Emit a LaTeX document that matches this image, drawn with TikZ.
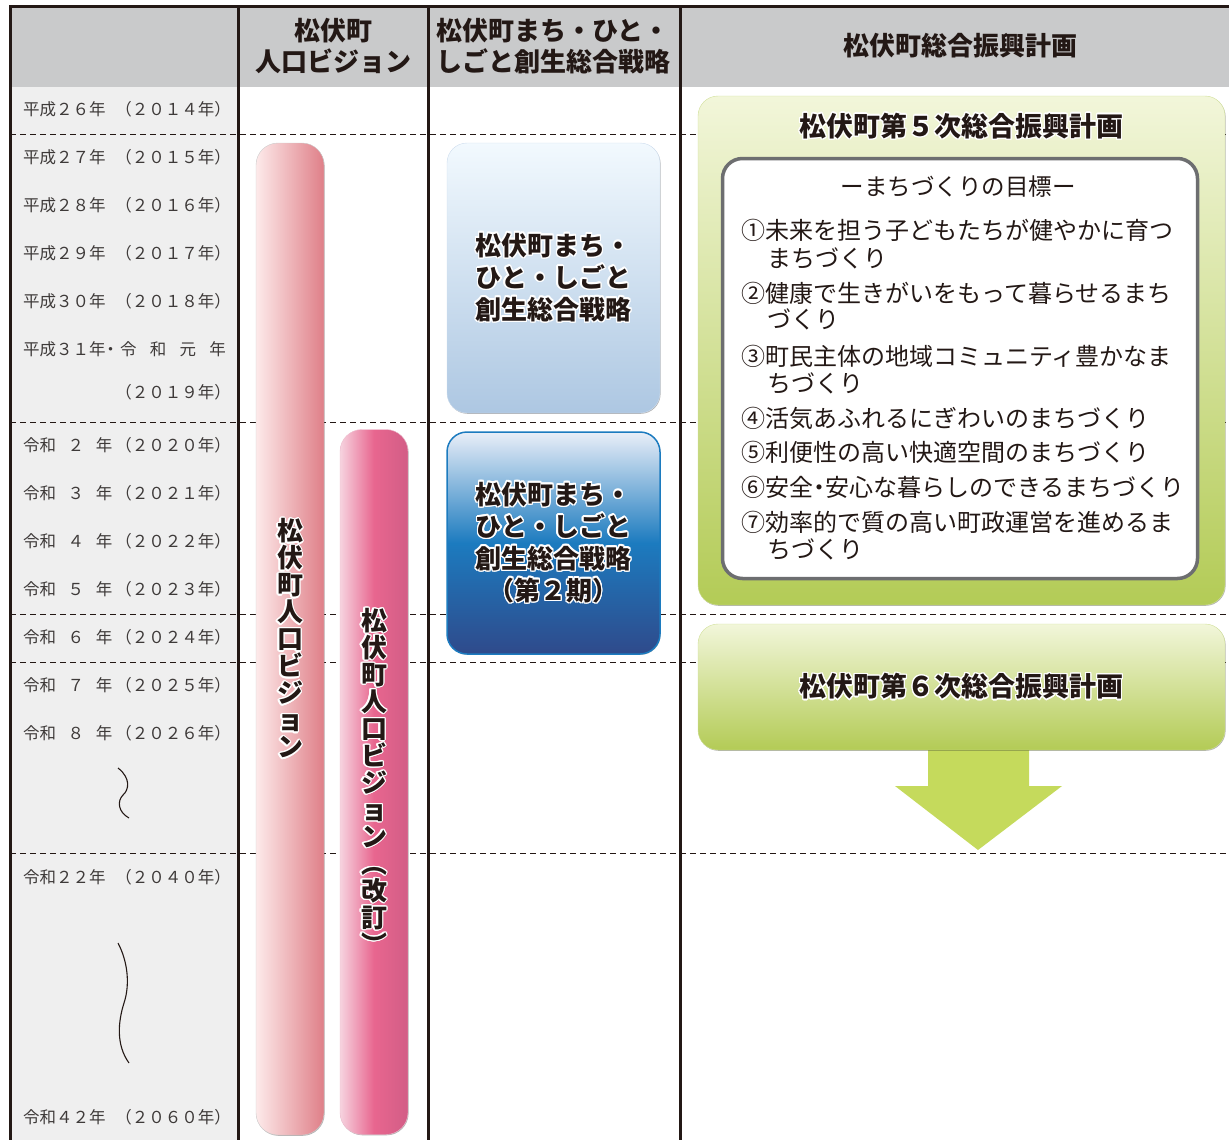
\documentclass[tikz,border=0pt]{standalone}
\usepackage{fontspec}
\setmainfont{Noto Sans CJK JP}
\usepackage[copies]{contour}
\contourlength{1.4pt}
\usetikzlibrary{positioning,shadows}

\definecolor{ink}{HTML}{231815}
\definecolor{yeargray}{HTML}{3E3A39}
\definecolor{headgray}{HTML}{C9CACB}
\definecolor{colgray}{HTML}{EFEFEF}
\definecolor{pinkA}{HTML}{FDEAEA}
\definecolor{pinkB}{HTML}{DF7F88}
\definecolor{roseA}{HTML}{F6D3DF}
\definecolor{roseB}{HTML}{E8668F}
\definecolor{roseC}{HTML}{D25D86}
\definecolor{skyA}{HTML}{F2F9FE}
\definecolor{skyB}{HTML}{ADC7E2}
\definecolor{navyA}{HTML}{E9EEF8}
\definecolor{navyB}{HTML}{1C7BBF}
\definecolor{navyC}{HTML}{2F4A8B}
\definecolor{leafA}{HTML}{F2F6DA}
\definecolor{leafB}{HTML}{B3CB56}
\definecolor{arrowgreen}{HTML}{C5DA5C}
\definecolor{framegray}{HTML}{6D6E70}

\newcommand{\halo}[1]{\contour{white}{#1}}

\begin{document}
\begin{tikzpicture}
[x=1pt,y=-1pt,
frame/.style={draw=ink,line width=3pt},
rowline/.style={draw=ink,line width=1pt,dash pattern=on 6pt off 4pt},
head/.style={font=\fontsize{26}{31}\selectfont\bfseries,align=center,text=ink},
yearl/.style={anchor=west,inner sep=0pt,font=\fontsize{16.5}{18}\selectfont,text=yeargray},
yearr/.style={anchor=east,inner sep=0pt,font=\fontsize{16.5}{18}\selectfont,text=yeargray},
glow/.style={drop shadow={shadow xshift=.6pt,shadow yshift=-.8pt,opacity=.3,fill=black}},
bar/.style={glow,rounded corners=22pt,minimum width=68pt,inner sep=0pt,draw=black!20,
  font=\fontsize{26}{27}\selectfont\bfseries,align=center,text=ink},
plan/.style={glow,rounded corners=20pt,inner sep=0pt,
  font=\fontsize{26}{32}\selectfont\bfseries,align=center,text=ink},
title/.style={inner sep=3pt,font=\fontsize{27}{32}\selectfont\bfseries,text=ink},
goal/.style={anchor=west,inner sep=0pt,font=\fontsize{24}{27}\selectfont,text=ink},
squiggle/.style={draw=ink,line width=1.1pt}]

\useasboundingbox (0,0) rectangle (1229,1140);
\fill[headgray] (10,7) rectangle (1229,87);
\fill[colgray] (10,87) rectangle (238,1140);
\foreach \y in {134,422,614,662,853}
  \draw[rowline] (10,\y) -- (1229,\y);
\draw[frame] (1229,7) -- (10,7) -- (10,1140);
\foreach \x in {238,428,680}
  \draw[frame] (\x,7) -- (\x,1140);

\node[head] (hvision) at (333,46) {松伏町\\人口ビジョン};
\node[head] (hstrat) at (553,46) {松伏町まち・ひと・\\しごと創生総合戦略};
\node[head] (hplan) at (960,46) {松伏町総合振興計画};

\foreach \n/\y/\l/\r in {a/109/平成２６年/（２０１４年）,b/157/平成２７年/（２０１５年）,
  c/205/平成２８年/（２０１６年）,d/253/平成２９年/（２０１７年）,e/301/平成３０年/（２０１８年）,
  g/445/令和\hspace{.7em}２\hspace{.7em}年/（２０２０年）,h/493/令和\hspace{.7em}３\hspace{.7em}年/（２０２１年）,
  i/541/令和\hspace{.7em}４\hspace{.7em}年/（２０２２年）,j/589/令和\hspace{.7em}５\hspace{.7em}年/（２０２３年）,
  k/637/令和\hspace{.7em}６\hspace{.7em}年/（２０２４年）,l/685/令和\hspace{.7em}７\hspace{.7em}年/（２０２５年）,
  m/733/令和\hspace{.7em}８\hspace{.7em}年/（２０２６年）,n/877/令和２２年/（２０４０年）,
  o/1117/令和４２年/（２０６０年）}
{
  \node[yearl] (yl\n) at (23,\y) {\l};
  \node[yearr] (yr\n) at (231,\y) {\r};
}
\node[yearl] (ylf) at (23,349) {平成３１年\hspace{-.2em}・};
\node[yearr] (yrf) at (226,349) {令\hspace{.8em}和\hspace{.8em}元\hspace{.8em}年};
\node[yearr] (yrf2) at (231,392) {（２０１９年）};

\draw[squiggle] (118,768) .. controls (131,778) and (129,790) .. (123,795)
  .. controls (117,801) and (118,812) .. (129,818);
\draw[squiggle] (118,943) .. controls (128,962) and (130,985) .. (124,1003)
  .. controls (118,1022) and (116,1045) .. (129,1063);

\node[bar,minimum height=992pt,left color=pinkA,right color=pinkB] (vision) at (290,639)
  {\halo{松}\\\halo{伏}\\\halo{町}\\\halo{人}\\\halo{口}\\\halo{ビ}\\\halo{ジ}\\\halo{ョ}\\\halo{ン}};
\node[bar,minimum height=705pt,left color=roseA,right color=roseC,middle color=roseB,
  draw=roseC!40] (visionrev) at (374,782)
  {\halo{松}\\\halo{伏}\\\halo{町}\\\halo{人}\\\halo{口}\\\halo{ビ}\\\halo{ジ}\\\halo{ョ}\\\halo{ン}\\
   \halo{︵}\\\halo{改}\\\halo{訂}\\\halo{︶}};

\node[plan,minimum width=213pt,minimum height=270pt,top color=skyA,bottom color=skyB,
  draw=skyB!60] (strat1) at (553.5,278)
  {\halo{松伏町まち・}\\\halo{ひと・しごと}\\\halo{創生総合戦略}};
\node[plan,minimum width=213pt,minimum height=222pt,top color=navyA,bottom color=navyC,
  middle color=navyB,draw=navyB,line width=1.5pt] (strat2) at (553.5,543)
  {\halo{松伏町まち・}\\\halo{ひと・しごと}\\\halo{創生総合戦略}\\\halo{（第２期）}};

\node[plan,minimum width=527pt,minimum height=509pt,top color=leafA,bottom color=leafB,
  draw=leafB!60] (plan5) at (961.5,350.5) {};
\node[title] (plan5title) [below=14pt of plan5.north] {\halo{松伏町第５次総合振興計画}};
\node[draw=framegray,line width=3.5pt,fill=white,rounded corners=20pt,
  minimum width=475pt,minimum height=420pt] (goals) at (960,368.5) {};
\node[font=\fontsize{23.5}{25}\selectfont,text=ink] (goalshead) at (958,187) {ーまちづくりの目標ー};
\foreach \n/\x/\y/\t in {g1/741/230/①未来を担う子どもたちが健やかに育つ,g1b/767/258/まちづくり,
  g2/741/293/②健康で生きがいをもって暮らせるまち,g2b/767/319/づくり,
  g3/741/356/③町民主体の地域コミュニティ豊かなま,g3b/767/383/ちづくり,
  g4/741/418/④活気あふれるにぎわいのまちづくり,g5/741/452/⑤利便性の高い快適空間のまちづくり,
  g6/741/487/⑥安全\hspace{-.25em}・\hspace{-.25em}安心な暮らしのできるまちづくり,
  g7/741/522/⑦効率的で質の高い町政運営を進めるま,g7b/767/549/ちづくり}
  \node[goal] (\n) at (\x,\y) {\t};

\fill[arrowgreen] (928,750) -- (1029,750) -- (1029,786) -- (1062,786) -- (978,850)
  -- (895,786) -- (928,786) -- cycle;
\node[plan,minimum width=527pt,minimum height=126pt,top color=leafA,bottom color=leafB,
  draw=leafB!60,font=\fontsize{27}{32}\selectfont\bfseries] (plan6) at (961.5,687)
  {\halo{松伏町第６次総合振興計画}};
\end{tikzpicture}
\end{document}
